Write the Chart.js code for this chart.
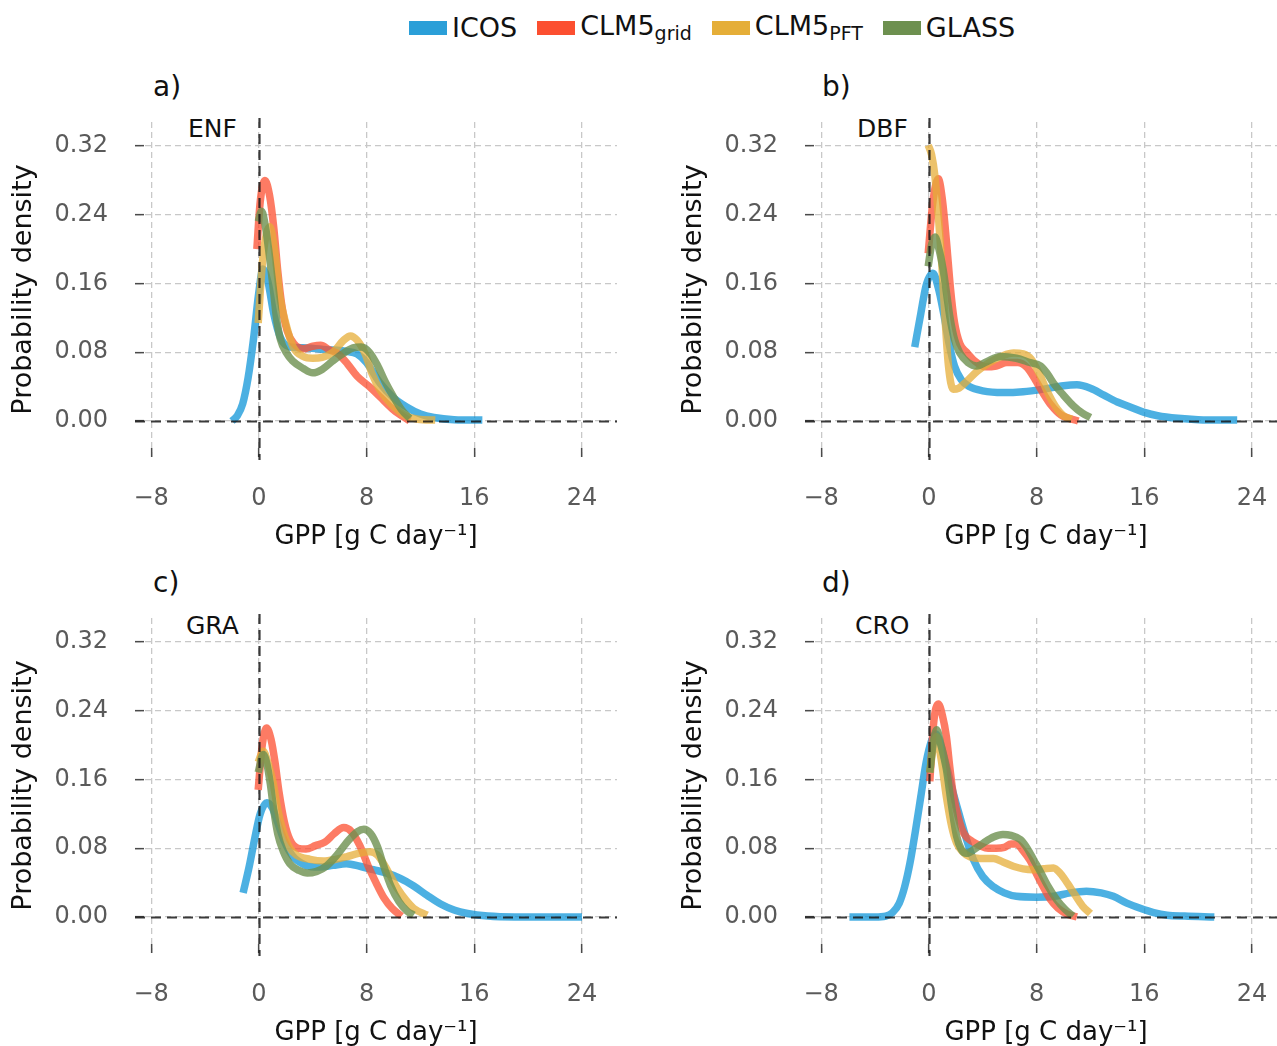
<!DOCTYPE html>
<html lang="en">
<head>
<meta charset="UTF-8">
<title>GPP probability density</title>
<script src="https://cdn.jsdelivr.net/npm/chart.js"></script>
<style>
    body {
        margin: 0;
        width: 1277px;
        height: 1046px;
        overflow: hidden;
        background: #fff;
        position: relative;
        font-family: "DejaVu Sans", sans-serif;
        color: #111;
    }
    .panel { position: absolute; width: 670px; height: 520px; }
    .legend {
        position: absolute; top: 12px; left: 409px;
        display: flex; align-items: center;
        font-size: 27px; white-space: nowrap; line-height: 1;
    }
    .legend .item { display: flex; align-items: center; margin-right: 20px; }
    .legend .sw { display: inline-block; width: 38px; height: 14px; margin-right: 5px; }
    .legend sub { font-size: 19px; vertical-align: -5px; line-height: 1; }
    .letter { position: absolute; font-size: 28px; line-height: 1; }
    .site { position: absolute; font-size: 25px; line-height: 1; }
</style>
</head>
<body>

<div class="legend">
    <div class="item"><span class="sw" style="background:#2b9fd8"></span><span>ICOS</span></div>
    <div class="item"><span class="sw" style="background:#fc4f30"></span><span>CLM5<sub>grid</sub></span></div>
    <div class="item"><span class="sw" style="background:#e5ae38"></span><span>CLM5<sub>PFT</sub></span></div>
    <div class="item"><span class="sw" style="background:#6d904f"></span><span>GLASS</span></div>
</div>

<div class="letter" style="left:153px;top:73px">a)</div>
<div class="letter" style="left:822px;top:73px">b)</div>
<div class="letter" style="left:153px;top:569px">c)</div>
<div class="letter" style="left:822px;top:569px">d)</div>

<div class="site" style="left:188px;top:116px">ENF</div>
<div class="site" style="left:857px;top:116px">DBF</div>
<div class="site" style="left:186px;top:613px">GRA</div>
<div class="site" style="left:855px;top:613px">CRO</div>

<canvas id="chartA" class="panel" width="670" height="520" style="left:0;top:40px"></canvas>
<canvas id="chartB" class="panel" width="670" height="520" style="left:670px;top:40px"></canvas>
<canvas id="chartC" class="panel" width="670" height="520" style="left:0;top:536px"></canvas>
<canvas id="chartD" class="panel" width="670" height="520" style="left:670px;top:536px"></canvas>

<script>
// axis ticks
const X_TICKS = [-8, 0, 8, 16, 24];
const X_LABELS = ['\u22128', '0', '8', '16', '24'];
const Y_TICKS = [0, 0.08, 0.16, 0.24, 0.32];
const Y_LABELS = ['0.00', '0.08', '0.16', '0.24', '0.32'];

const SERIES = ['ICOS', 'CLM5grid', 'CLM5PFT', 'GLASS'];
const COLORS = ['rgba(0,143,213,0.7)', 'rgba(252,79,48,0.75)', 'rgba(229,174,56,0.75)', 'rgba(109,144,79,0.8)'];

// [GPP, density] pairs
// a) ENF
const enfICOS = [[-2.0,0.0],[-1.6,0.006],[-1.2,0.02],[-0.8,0.05],[-0.4,0.095],[0,0.15],[0.3,0.177],[0.7,0.16],[1.1,0.125],[1.6,0.097],[2.3,0.086],[3.5,0.085],[5,0.083],[6.5,0.081],[7.3,0.078],[8,0.068],[9,0.044],[10,0.027],[11,0.016],[12,0.008],[13,0.004],[14.5,0.0015],[16.6,0.001]];
const enfGRID = [[-0.15,0.2],[0.1,0.255],[0.45,0.28],[0.8,0.262],[1.1,0.226],[1.4,0.175],[1.7,0.135],[2.1,0.105],[2.6,0.09],[3.3,0.084],[4.0,0.087],[4.6,0.088],[5.2,0.083],[5.9,0.078],[6.6,0.066],[7.3,0.052],[8.2,0.04],[9,0.028],[10,0.013],[11.2,0.0]];
const enfPFT = [[-0.05,0.114],[0.3,0.19],[0.8,0.226],[1.2,0.195],[1.56,0.145],[2.06,0.11],[2.55,0.086],[3.3,0.075],[4.0,0.073],[4.7,0.074],[5.5,0.08],[6.3,0.094],[6.8,0.099],[7.3,0.094],[7.9,0.078],[8.4,0.055],[9.0,0.036],[9.8,0.02],[10.8,0.007],[11.8,0.002],[13.1,0.001]];
const enfGLASS = [[-0.05,0.232],[0.2,0.244],[0.5,0.225],[0.8,0.19],[1.1,0.15],[1.3,0.121],[1.6,0.095],[2.06,0.079],[2.5,0.07],[3.3,0.061],[4.0,0.056],[4.7,0.06],[5.5,0.07],[6.3,0.079],[7.0,0.085],[7.6,0.086],[8.2,0.08],[8.8,0.065],[9.4,0.045],[10.0,0.028],[10.6,0.013],[11.2,0.003]];
// b) DBF
const dbfICOS = [[-1.05,0.086],[-0.6,0.125],[-0.2,0.158],[0.3,0.172],[0.7,0.155],[1.1,0.125],[1.5,0.09],[1.9,0.064],[2.4,0.048],[3.0,0.04],[4.0,0.035],[5.5,0.033],[7.0,0.034],[8.5,0.037],[10,0.041],[11,0.042],[12,0.038],[13,0.03],[14,0.022],[15,0.016],[16,0.01],[17,0.006],[18.5,0.003],[20,0.0015],[22.9,0.001]];
const dbfGRID = [[-0.05,0.195],[0.3,0.255],[0.7,0.282],[1.0,0.258],[1.3,0.21],[1.6,0.155],[1.9,0.115],[2.3,0.09],[2.8,0.08],[3.4,0.07],[4.2,0.063],[5.0,0.064],[5.8,0.068],[6.6,0.068],[7.3,0.062],[7.9,0.048],[8.5,0.032],[9.1,0.018],[9.8,0.007],[11.1,0.0]];
const dbfPFT = [[-0.05,0.321],[0.2,0.31],[0.45,0.285],[0.7,0.24],[0.95,0.185],[1.2,0.12],[1.45,0.065],[1.8,0.037],[2.2,0.038],[2.8,0.046],[3.6,0.058],[4.5,0.068],[5.5,0.076],[6.3,0.079],[7.0,0.078],[7.6,0.072],[8.2,0.055],[8.8,0.034],[9.4,0.017],[10.0,0.006],[10.6,0.002]];
const dbfGLASS = [[-0.05,0.18],[0.2,0.205],[0.45,0.214],[0.75,0.2],[1.06,0.176],[1.3,0.15],[1.56,0.121],[1.9,0.095],[2.3,0.079],[2.9,0.068],[3.55,0.064],[4.3,0.069],[5.3,0.075],[6.5,0.073],[7.5,0.068],[8.3,0.064],[8.8,0.055],[9.3,0.043],[10,0.03],[10.7,0.018],[11.4,0.009],[12,0.004]];
// c) GRA
const graICOS = [[-1.17,0.028],[-0.7,0.06],[-0.3,0.092],[0.1,0.12],[0.6,0.133],[1.0,0.127],[1.4,0.11],[1.9,0.088],[2.5,0.071],[3.5,0.06],[4.5,0.058],[5.5,0.06],[6.5,0.062],[7.5,0.059],[8.5,0.055],[9.5,0.051],[10.5,0.045],[11.5,0.036],[12.5,0.025],[13.5,0.015],[14.5,0.008],[15.5,0.004],[17,0.001],[19,0.0],[24,0.0]];
const graGRID = [[-0.05,0.148],[0.25,0.2],[0.57,0.22],[0.9,0.207],[1.2,0.18],[1.5,0.145],[1.9,0.11],[2.3,0.09],[2.9,0.08],[3.5,0.079],[4.2,0.083],[4.9,0.087],[5.6,0.097],[6.3,0.104],[6.9,0.099],[7.5,0.083],[8.1,0.06],[8.7,0.04],[9.3,0.022],[9.9,0.01],[10.6,0.001]];
const graPFT = [[-0.05,0.18],[0.32,0.193],[0.7,0.178],[1.06,0.156],[1.4,0.125],[1.8,0.1],[2.3,0.08],[2.8,0.072],[3.8,0.067],[4.8,0.065],[5.7,0.067],[6.5,0.07],[7.4,0.074],[8.26,0.076],[8.8,0.072],[9.3,0.061],[9.8,0.047],[10.3,0.033],[10.9,0.02],[11.5,0.01],[12.5,0.002]];
const graGLASS = [[-0.05,0.168],[0.32,0.189],[0.6,0.178],[0.85,0.155],[1.1,0.125],[1.4,0.097],[1.8,0.077],[2.3,0.062],[3.0,0.054],[3.6,0.051],[4.3,0.053],[5.0,0.059],[5.8,0.072],[6.6,0.088],[7.3,0.099],[7.8,0.102],[8.3,0.097],[8.8,0.082],[9.3,0.058],[9.8,0.036],[10.4,0.018],[11,0.007],[11.5,0.002]];
// d) CRO
const croICOS = [[-5.9,0.0],[-4,0.0],[-3.2,0.001],[-2.7,0.005],[-2.2,0.016],[-1.8,0.035],[-1.4,0.063],[-1.0,0.1],[-0.6,0.14],[-0.2,0.18],[0.2,0.205],[0.5,0.213],[0.9,0.2],[1.3,0.176],[1.8,0.145],[2.3,0.117],[2.8,0.09],[3.3,0.067],[4.0,0.047],[4.8,0.035],[5.6,0.028],[6.5,0.024],[8,0.023],[9.3,0.024],[10.5,0.028],[11.7,0.03],[12.8,0.028],[13.7,0.024],[14.7,0.016],[15.7,0.01],[16.7,0.005],[17.7,0.002],[19,0.001],[21.2,0.0]];
const croGRID = [[0.07,0.158],[0.35,0.225],[0.7,0.248],[1.0,0.235],[1.3,0.21],[1.55,0.175],[1.8,0.144],[2.2,0.115],[2.6,0.097],[3.2,0.088],[3.8,0.083],[4.4,0.08],[5.0,0.08],[5.6,0.081],[6.1,0.085],[6.5,0.085],[7.0,0.077],[7.5,0.066],[8.0,0.05],[8.5,0.035],[9.0,0.021],[9.6,0.01],[10.3,0.003],[11,0.0]];
const croPFT = [[0.07,0.168],[0.3,0.195],[0.57,0.21],[0.9,0.185],[1.3,0.14],[1.7,0.105],[2.06,0.086],[2.5,0.076],[3.05,0.07],[3.8,0.068],[4.8,0.068],[5.5,0.064],[6.27,0.059],[7.0,0.056],[7.76,0.055],[8.5,0.056],[9.25,0.057],[9.8,0.05],[10.3,0.039],[10.8,0.027],[11.4,0.013],[12,0.004]];
const croGLASS = [[0.07,0.168],[0.3,0.2],[0.57,0.218],[0.9,0.2],[1.3,0.172],[1.7,0.128],[2.06,0.094],[2.4,0.079],[2.8,0.074],[3.4,0.079],[4.05,0.086],[4.8,0.093],[5.5,0.096],[6.1,0.095],[6.8,0.09],[7.3,0.08],[7.8,0.066],[8.3,0.052],[8.8,0.037],[9.5,0.02],[10.1,0.009],[10.7,0.001]];

// dashed black lines at x = 0 and y = 0, drawn over the curves
const zeroLines = {
    id: 'zeroLines',
    afterDatasetsDraw(chart) {
        const { ctx, chartArea: a, scales: { x, y } } = chart;
        const px = Math.round(x.getPixelForValue(0)) + 0.5;
        const py = Math.round(y.getPixelForValue(0)) + 0.5;
        ctx.save();
        ctx.strokeStyle = 'rgba(25,25,25,0.85)';
        ctx.lineWidth = 2.2;
        ctx.setLineDash([10, 6]);
        ctx.beginPath();
        ctx.moveTo(px, a.top - 4);
        ctx.lineTo(px, a.bottom + 3);
        ctx.moveTo(a.left, py);
        ctx.lineTo(a.right, py);
        ctx.stroke();
        ctx.restore();
    }
};

function makeChart(id, curves) {
    const datasets = curves.map((pts, i) => ({
        label: SERIES[i],
        data: pts.map(p => ({ x: p[0], y: p[1] })),
        borderColor: COLORS[i],
        borderWidth: 7.5,
        pointRadius: 0,
        fill: false,
        cubicInterpolationMode: 'monotone',
        order: 4 - i
    }));

    const gridOpts = {
        color: '#c8c8c8',
        lineWidth: 1.3,
        tickLength: -9,
        tickColor: '#4a4a4a',
        tickWidth: 1.5,
        tickBorderDash: []
    };

    return new Chart(document.getElementById(id), {
        type: 'line',
        data: { datasets },
        options: {
            responsive: false,
            animation: false,
            events: [],
            layout: { padding: { left: 0, top: 82, right: 53, bottom: 0 } },
            plugins: { legend: { display: false }, tooltip: { enabled: false } },
            scales: {
                x: {
                    type: 'linear',
                    min: -9.2,
                    max: 26.6,
                    afterBuildTicks: s => { s.ticks = X_TICKS.map(v => ({ value: v })); },
                    afterFit: s => { s.height = 103; },
                    grid: gridOpts,
                    border: { display: false, dash: [6, 4] },
                    ticks: {
                        callback: (v, i) => X_LABELS[i],
                        padding: 36,
                        maxRotation: 0,
                        color: '#5a5a5a',
                        font: { family: 'DejaVu Sans', size: 24 }
                    },
                    title: {
                        display: true,
                        text: 'GPP [g C day\u207B\u00B9]',
                        color: '#111',
                        padding: { top: 0, bottom: 7 },
                        font: { family: 'DejaVu Sans', size: 26 }
                    }
                },
                y: {
                    type: 'linear',
                    min: -0.042,
                    max: 0.348,
                    afterBuildTicks: s => { s.ticks = Y_TICKS.map(v => ({ value: v })); },
                    afterFit: s => { s.width = 135; },
                    grid: gridOpts,
                    border: { display: false, dash: [6, 4] },
                    ticks: {
                        callback: (v, i) => Y_LABELS[i],
                        padding: 36,
                        color: '#5a5a5a',
                        font: { family: 'DejaVu Sans', size: 24 }
                    },
                    title: {
                        display: true,
                        text: 'Probability density',
                        color: '#111',
                        padding: { top: 8, bottom: 0 },
                        font: { family: 'DejaVu Sans', size: 27 }
                    }
                }
            }
        },
        plugins: [zeroLines]
    });
}

makeChart('chartA', [enfICOS, enfGRID, enfPFT, enfGLASS]);
makeChart('chartB', [dbfICOS, dbfGRID, dbfPFT, dbfGLASS]);
makeChart('chartC', [graICOS, graGRID, graPFT, graGLASS]);
makeChart('chartD', [croICOS, croGRID, croPFT, croGLASS]);
</script>
</body>
</html>
